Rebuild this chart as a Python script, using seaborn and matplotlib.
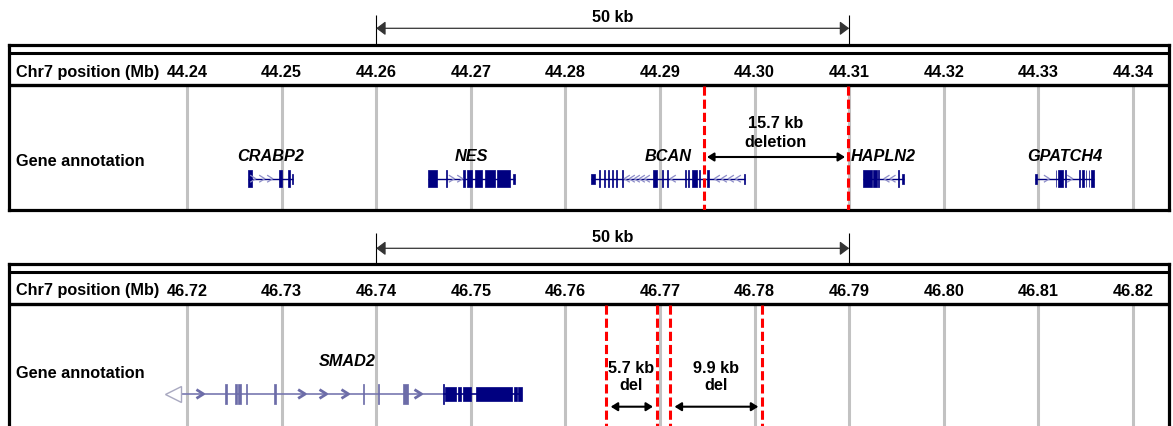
import matplotlib
matplotlib.use("Agg")
import matplotlib.pyplot as plt
from matplotlib.path import Path
import seaborn as sns

sns.set_style("white")
plt.rcParams['font.family'] = ['Liberation Sans', 'DejaVu Sans']
plt.rcParams['text.color'] = 'black'

# ---------------- данные (позиции в Mb) ----------------
top_ticks = [44.24, 44.25, 44.26, 44.27, 44.28, 44.29, 44.30, 44.31, 44.32, 44.33, 44.34]
bottom_ticks = [46.72, 46.73, 46.74, 46.75, 46.76, 46.77, 46.78, 46.79, 46.80, 46.81, 46.82]

row_labels = ["Chr7 position (Mb)", "Gene annotation"]
scale_label = "50 kb"
scale_top = (44.26, 44.31)
scale_bottom = (46.74, 46.79)

# CRABP2
crabp2_span = (44.24648, 44.25118)
crabp2_exons = [(44.24648, 44.24684), (44.24976, 44.25001), (44.25068, 44.25084)]
crabp2_utr = [(44.25105, 44.25118)]
crabp2_arrows = [44.24698, 44.24793, 44.24877]

# NES
nes_span = (44.26544, 44.27467)
nes_exons = [(44.26544, 44.26640), (44.26740, 44.26751), (44.26921, 44.26939),
             (44.26957, 44.27010), (44.27044, 44.27115), (44.27150, 44.27256),
             (44.27274, 44.27414)]
nes_utr = [(44.27449, 44.27467)]
nes_arrows = [44.26798, 44.26886]

# BCAN
bcan_span = (44.28267, 44.29902)
bcan_exons = [(44.28360, 44.28371), (44.28406, 44.28416), (44.28448, 44.28459),
              (44.28491, 44.28501), (44.28537, 44.28548), (44.28596, 44.28607),
              (44.28929, 44.28972), (44.29023, 44.29034), (44.29072, 44.29082),
              (44.29259, 44.29270), (44.29294, 44.29305), (44.29335, 44.29388),
              (44.29407, 44.29423), (44.29494, 44.29521)]
bcan_utr = [(44.28267, 44.28316), (44.29891, 44.29902)]
bcan_arrows = [44.28651, 44.28704, 44.28757, 44.28810, 44.28863, 44.29137,
               44.29603, 44.29677, 44.29751, 44.29825]

# HAPLN2
hapln2_span = (44.31143, 44.31574)
hapln2_exons = [(44.31143, 44.31241), (44.31252, 44.31291), (44.31307, 44.31317),
                (44.31514, 44.31530)]
hapln2_utr = [(44.31563, 44.31574)]
hapln2_arrows = [44.31396, 44.31460]

# GPATCH4
gpatch4_span = (44.32969, 44.33583)
gpatch4_exons = [(44.33181, 44.33191), (44.33212, 44.33265), (44.33286, 44.33297),
                 (44.33434, 44.33445), (44.33466, 44.33477), (44.33498, 44.33508),
                 (44.33530, 44.33540), (44.33556, 44.33583)]
gpatch4_utr = [(44.32969, 44.32980)]
gpatch4_arrows = [44.33088, 44.33334]

# SMAD2: светлая (некодирующая) часть и тёмная (кодирующая)
smad2_light_span = (46.71937, 46.74706)
smad2_light_exons = [(46.72404, 46.72420), (46.72510, 46.72526), (46.72538, 46.72570),
                     (46.72623, 46.72639), (46.72922, 46.72938), (46.73856, 46.73872),
                     (46.74014, 46.74030), (46.74280, 46.74339)]
smad2_arrows = [46.72137, 46.73212, 46.73438, 46.73670, 46.74442]
smad2_tip = 46.71847
smad2_dark_span = (46.74702, 46.75538)
smad2_dark_tick = [(46.74702, 46.74718)]
smad2_dark_exons = [(46.74724, 46.74844), (46.74868, 46.74893), (46.74921, 46.74999),
                    (46.75055, 46.75432), (46.75457, 46.75485), (46.75502, 46.75538)]

# Делеции: границы, стрелки, подписи
top_dels = [(44.29460, 44.30987)]
top_del_arrows = [(44.29497, 44.30956)]
top_del_labels = [("15.7 kb", "deletion")]
bottom_dels = [(46.76428, 46.76970), (46.77108, 46.78081)]
bottom_del_arrows = [(46.76479, 46.76926), (46.77154, 46.78039)]
bottom_del_labels = [("5.7 kb", "del"), ("9.9 kb", "del")]

# ---------------- оформление ----------------
W, H = 1173, 426
PX_PER_MB = 9460
LEFT_PX, RIGHT_PX, TICK0_PX = 9, 1169, 187
PANEL_H = 165
FS = 11.7
NAVY = '#000080'
LIGHT = '#6c6ca8'

CHEV_R = Path([(-0.4, 0.5), (0.4, 0), (-0.4, -0.5)], [Path.MOVETO, Path.LINETO, Path.LINETO])
CHEV_L = Path([(0.4, 0.5), (-0.4, 0), (0.4, -0.5)], [Path.MOVETO, Path.LINETO, Path.LINETO])

fig = plt.figure(figsize=(W / 100, H / 100), dpi=100)


def make_panel(top_px, ticks, label_y):
    ax = fig.add_axes([LEFT_PX / W, (H - top_px - PANEL_H) / H,
                       (RIGHT_PX - LEFT_PX) / W, PANEL_H / H])
    ax.set_xlim(ticks[0] - (TICK0_PX - LEFT_PX) / PX_PER_MB,
                ticks[0] + (RIGHT_PX - TICK0_PX) / PX_PER_MB)
    ax.set_ylim(PANEL_H, 0)
    ax.set_xticks([])
    ax.set_yticks([])
    for sp in ax.spines.values():
        sp.set_linewidth(2.3)
        sp.set_color('black')

    # шапка с координатами
    ax.axhline(8, color='black', lw=2.2)
    ax.axhline(39.5, color='black', lw=2.4)
    tr = ax.get_yaxis_transform()
    ax.text(7 / 1160, 31.5, row_labels[0], transform=tr, fontsize=FS,
            fontweight='bold', va='baseline', ha='left')
    ax.text(7 / 1160, label_y, row_labels[1], transform=tr, fontsize=FS,
            fontweight='bold', va='baseline', ha='left')
    for t in ticks:
        ax.text(t, 31.5, f"{t:.2f}", fontsize=FS, fontweight='bold',
                ha='center', va='baseline')
    ax.vlines(ticks, 41, PANEL_H, colors='#c2c2c2', lw=2.2, zorder=1)
    return ax


def scale_bar(ax, span, text_y, arrow_y, tick_top):
    ax.vlines(span, tick_top, 0, colors='black', lw=0.8, clip_on=False)
    ax.annotate('', xy=(span[1], arrow_y), xytext=(span[0], arrow_y),
                arrowprops=dict(arrowstyle='<|-|>,head_length=0.4,head_width=0.3',
                                mutation_scale=14, lw=0.9, color='#333333',
                                shrinkA=0, shrinkB=0),
                annotation_clip=False)
    ax.text((span[0] + span[1]) / 2, text_y, scale_label, fontsize=FS,
            fontweight='bold', ha='center', va='baseline')


def draw_gene(ax, name, span, exons, utr, arrows, right, y, label_y):
    ax.hlines(y, span[0], span[1], colors=NAVY, lw=1, zorder=2)
    ax.broken_barh([(s, e - s) for s, e in exons], (y - 8.7, 17.4),
                   facecolors=NAVY, edgecolors=NAVY, lw=0.5, zorder=3)
    ax.broken_barh([(s, e - s) for s, e in utr], (y - 5, 10),
                   facecolors=NAVY, edgecolors=NAVY, lw=0.5, zorder=3)
    sns.scatterplot(x=arrows, y=[y] * len(arrows), marker=CHEV_R if right else CHEV_L,
                    s=26, facecolor='none', edgecolor='#8c8cc8', linewidth=0.9,
                    ax=ax, legend=False, zorder=3)
    ax.text((span[0] + span[1]) / 2, label_y, name, fontsize=FS, fontweight='bold',
            fontstyle='italic', ha='center', va='baseline')


def deletions(ax, dels, arrows, labels, arrow_y, l1_y, l2_y):
    for s, e in dels:
        ax.vlines([s, e], 41, PANEL_H, colors='red', lw=2.2,
                  linestyles=(0, (3, 1.3)), zorder=5)
    for (s, e), (a, b) in zip(dels, labels):
        ax.text((s + e) / 2, l1_y, a, fontsize=FS, fontweight='bold',
                ha='center', va='baseline', zorder=6)
        ax.text((s + e) / 2, l2_y, b, fontsize=FS, fontweight='bold',
                ha='center', va='baseline', zorder=6)
    for s, e in arrows:
        ax.annotate('', xy=(e, arrow_y), xytext=(s, arrow_y),
                    arrowprops=dict(arrowstyle='<|-|>,head_length=0.4,head_width=0.25',
                                    mutation_scale=10, lw=1.5, color='black',
                                    shrinkA=0, shrinkB=0), zorder=6)


# ---------------- верхняя панель ----------------
ax1 = make_panel(45, top_ticks, 121)
scale_bar(ax1, scale_top, -23.3, -16.7, -30)
gy = 133.7
draw_gene(ax1, "CRABP2", crabp2_span, crabp2_exons, crabp2_utr, crabp2_arrows, True, gy, 116)
draw_gene(ax1, "NES", nes_span, nes_exons, nes_utr, nes_arrows, True, gy, 116)
draw_gene(ax1, "BCAN", bcan_span, bcan_exons, bcan_utr, bcan_arrows, False, gy, 116)
draw_gene(ax1, "HAPLN2", hapln2_span, hapln2_exons, hapln2_utr, hapln2_arrows, False, gy, 116)
draw_gene(ax1, "GPATCH4", gpatch4_span, gpatch4_exons, gpatch4_utr, gpatch4_arrows, True, gy, 116)
deletions(ax1, top_dels, top_del_arrows, top_del_labels, 112, 83, 101.7)

# ---------------- нижняя панель ----------------
ax2 = make_panel(264, bottom_ticks, 114)
scale_bar(ax2, scale_bottom, -22.3, -15.7, -31)
sy = 130
ax2.hlines(sy, smad2_light_span[0], smad2_light_span[1], colors='#7878b0', lw=1.2, zorder=2)
ax2.broken_barh([(s, e - s) for s, e in smad2_light_exons], (sy - 10, 20),
                facecolors=LIGHT, edgecolors=LIGHT, lw=0.5, zorder=3)
sns.scatterplot(x=smad2_arrows, y=[sy] * len(smad2_arrows), marker=CHEV_R, s=40,
                facecolor='none', edgecolor=LIGHT, linewidth=2, ax=ax2,
                legend=False, zorder=3)
ax2.plot([smad2_tip], [sy], marker='<', ms=12, mfc='white', mec='#a8a8c0', mew=1,
         ls='none', zorder=3)
ax2.hlines(sy, smad2_dark_span[0], smad2_dark_span[1], colors=NAVY, lw=1.2, zorder=2)
ax2.broken_barh([(s, e - s) for s, e in smad2_dark_tick], (sy - 10, 20),
                facecolors=NAVY, edgecolors=NAVY, lw=0.5, zorder=3)
ax2.broken_barh([(s, e - s) for s, e in smad2_dark_exons], (sy - 6.7, 13.4),
                facecolors=NAVY, edgecolors=NAVY, lw=0.5, zorder=3)
ax2.text((smad2_tip + smad2_dark_span[1]) / 2, 101.7, "SMAD2", fontsize=FS,
         fontweight='bold', fontstyle='italic', ha='center', va='baseline')
deletions(ax2, bottom_dels, bottom_del_arrows, bottom_del_labels, 142.7, 109, 126)

fig.savefig('out.png', dpi=100)
